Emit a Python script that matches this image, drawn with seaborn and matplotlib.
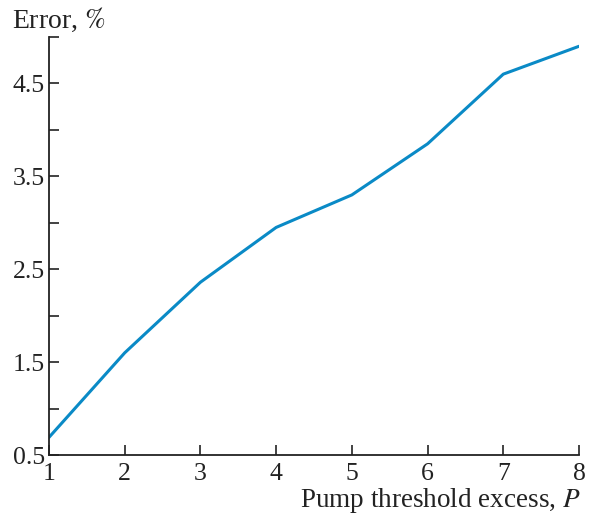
import matplotlib
matplotlib.use("Agg")
import matplotlib.pyplot as plt
import seaborn as sns
import pandas as pd

pump_excess = [1, 2, 3, 4, 5, 6, 7, 8]
error_pct = [0.69, 1.6, 2.36, 2.95, 3.3, 3.85, 4.6, 4.9]
y_major = [0.5, 1.5, 2.5, 3.5, 4.5]
y_minor = [1.0, 2.0, 3.0, 4.0, 5.0]

sns.set_style("ticks")
plt.rcParams['font.family'] = ['Liberation Serif', 'DejaVu Serif']
plt.rcParams['mathtext.fontset'] = 'stix'

fig = plt.figure(figsize=(5.91, 5.15), dpi=100)
ax = fig.add_axes([49/591, 60/515, (579-49)/591, (455-37)/515])

df = pd.DataFrame({"P": pump_excess, "Error": error_pct})
sns.lineplot(data=df, x="P", y="Error", ax=ax, color="#0a8ac6", linewidth=2.2)

ax.set_xlim(1, 8)
ax.set_ylim(0.5, 4.98)
ax.set_xticks(pump_excess)
ax.set_xticklabels([str(v) for v in pump_excess])
ax.set_yticks(y_major)
ax.set_yticklabels([str(v) for v in y_major])
ax.set_yticks(y_minor, minor=True)
ax.tick_params(axis='both', which='both', direction='in', width=1.2, colors='#222222', labelsize=18.5, labelcolor='#222222')
ax.tick_params(axis='both', which='major', length=7)
ax.tick_params(axis='y', which='minor', length=7)
ax.tick_params(axis='x', pad=6)
ax.tick_params(axis='y', pad=3)
for s in ['top', 'right']:
    ax.spines[s].set_visible(False)
for s in ['left', 'bottom']:
    ax.spines[s].set_linewidth(1.3)
    ax.spines[s].set_color('#222222')

ax.set_xlabel("")
ax.set_ylabel("")
fig.text(12/591, 1 - 20/515, "Error, $\\mathit{\\%}$", fontsize=20, color='#222222', ha='left', va='center')
fig.text(581/591, 1 - 507/515, "Pump threshold excess, $\\mathit{P}$", fontsize=19.5, color='#222222', ha='right', va='baseline')

fig.savefig("out.png", dpi=100)
